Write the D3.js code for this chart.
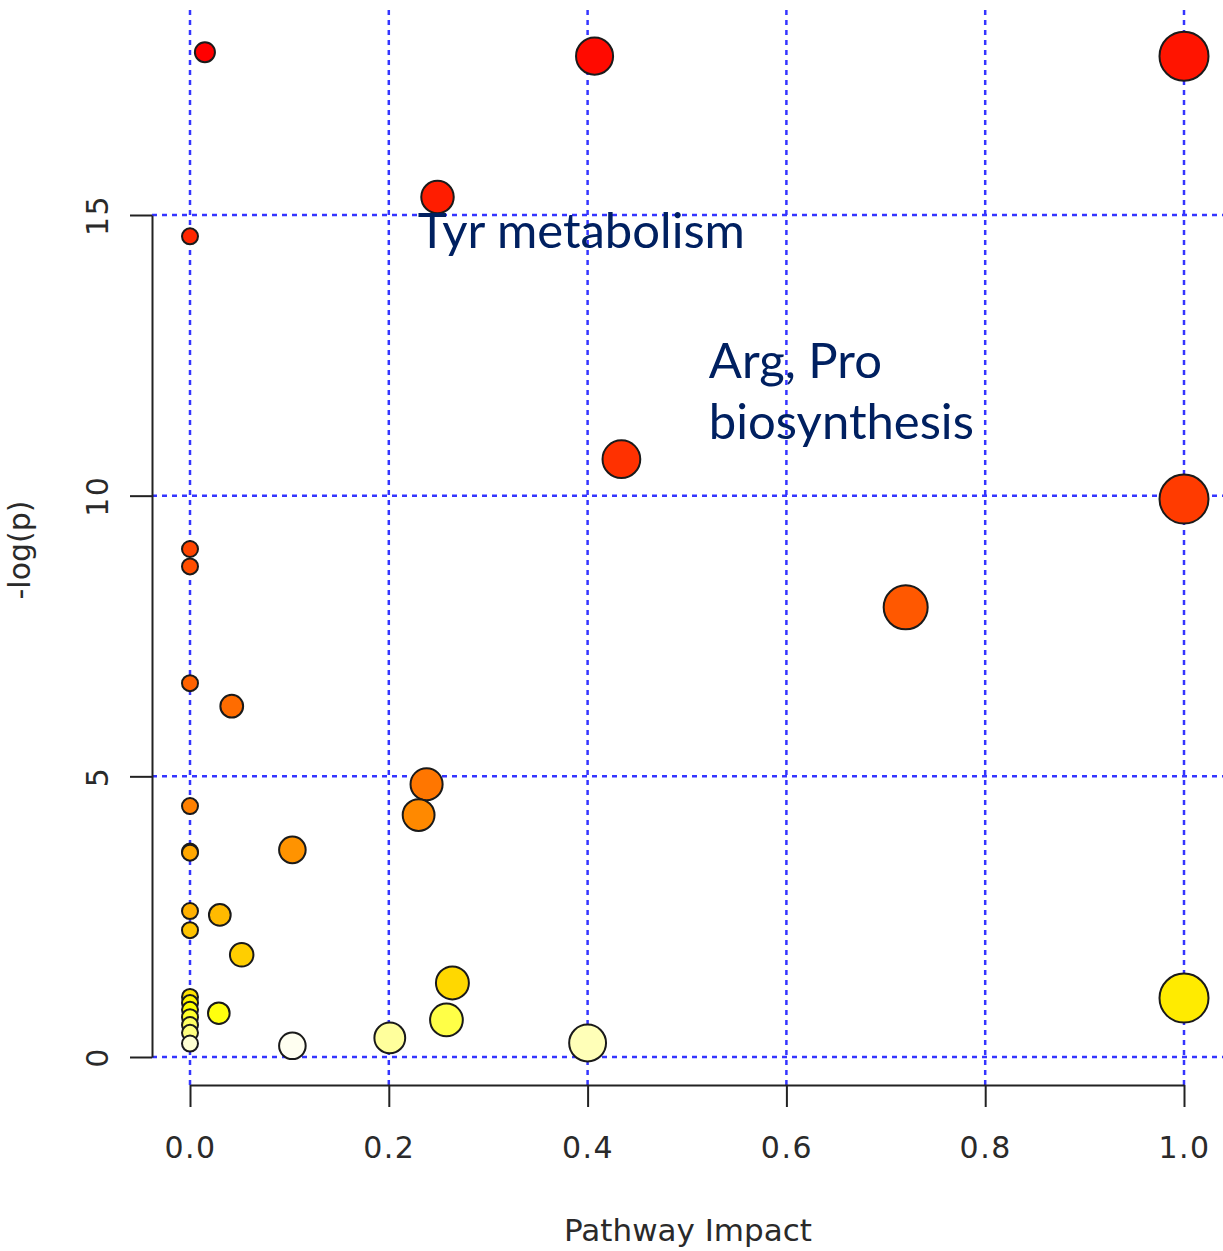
<!DOCTYPE html>
<html>
<head>
<meta charset="utf-8">
<script src="https://cdn.jsdelivr.net/npm/d3@7"></script>
<style>
  html, body { margin: 0; padding: 0; background: #fff; }
  svg { display: block; }
</style>
</head>
<body>
<div id="chart"></div>
<script>
// pathway impact (x) and -log(p) (y), ordered by -log(p) descending
const impact = [0.015, 0.407, 1.0, 0.249, 0, 0.434, 1.0, 0, 0, 0.72,
                0, 0.042, 0.238, 0, 0.230, 0.103, 0, 0, 0, 0.030,
                0, 0.052, 0.264, 0, 1.0, 0, 0, 0.029, 0, 0.258,
                0, 0, 0.201, 0.400, 0, 0.103];
const logp = [17.90, 17.83, 17.83, 15.32, 14.62, 10.65, 9.94, 9.05, 8.74, 8.01,
              6.66, 6.25, 4.86, 4.47, 4.31, 3.69, 3.66, 3.64, 2.60, 2.53,
              2.26, 1.82, 1.32, 1.07, 1.05, 0.96, 0.84, 0.78, 0.71, 0.66,
              0.57, 0.43, 0.34, 0.25, 0.24, 0.20];

const xTicks = [0, 0.2, 0.4, 0.6, 0.8, 1.0];
const yTicks = [0, 5, 10, 15];

const annotations = [
  { lines: ['Tyr metabolism'], x: 0.229, y: 14.41 },
  { lines: ['Arg, Pro', 'biosynthesis'], x: 0.522, y: 12.10 }
];

const width = 1223, height = 1251;

const x = d3.scaleLinear().domain([0, 1]).range([190, 1184]);
const y = d3.scaleLinear().domain([0, 15]).range([1057, 215]);
const r = d3.scaleSqrt().domain([0, 1]).range([8, 24.5]);

// R's heat.colors(n): red -> yellow, then yellow -> white
function heatColors(n) {
  const j = Math.floor(n / 4), i = n - j;
  const out = [];
  for (let k = 0; k < i; k++) {
    const h = i > 1 ? k / (i - 1) : 0; // 0..1 of 60 degrees
    out.push(d3.rgb(255, Math.round(255 * h), 0).formatHex());
  }
  for (let k = 0; k < j; k++) {
    const s = j > 1 ? (1 - 1 / (2 * j)) + k * ((1 / (2 * j)) - (1 - 1 / (2 * j))) / (j - 1) : 0.5;
    out.push(d3.rgb(255, 255, Math.round(255 * (1 - s))).formatHex());
  }
  return out;
}
const fills = heatColors(logp.length);

const svg = d3.select('#chart').append('svg')
  .attr('width', width)
  .attr('height', height);

// grid
const grid = svg.append('g')
  .attr('stroke', '#3535ff')
  .attr('stroke-width', 2.5)
  .attr('stroke-dasharray', '5,5');
grid.selectAll('line.v').data(xTicks).join('line')
  .attr('class', 'v')
  .attr('x1', d => x(d)).attr('x2', d => x(d))
  .attr('y1', 10).attr('y2', 1085);
grid.selectAll('line.h').data(yTicks).join('line')
  .attr('class', 'h')
  .attr('x1', 152).attr('x2', width)
  .attr('y1', d => y(d)).attr('y2', d => y(d));

// axes
const font = '"DejaVu Sans", sans-serif';

const xAxis = svg.append('g')
  .attr('transform', 'translate(0,1085)')
  .call(d3.axisBottom(x).tickValues(xTicks).tickSize(22).tickSizeOuter(0)
    .tickPadding(30).tickFormat(d3.format('.1f')));
const yAxis = svg.append('g')
  .attr('transform', 'translate(152,0)')
  .call(d3.axisLeft(y).tickValues(yTicks).tickSize(22).tickSizeOuter(0));

[xAxis, yAxis].forEach(g => {
  g.select('.domain').attr('stroke', '#222').attr('stroke-width', 2);
  g.selectAll('.tick line').attr('stroke', '#222').attr('stroke-width', 2);
  g.selectAll('.tick text')
    .attr('fill', '#2a2a2a')
    .style('font-family', font)
    .style('font-size', '30px')
    .style('letter-spacing', '1.5px');
});
yAxis.selectAll('.tick text')
  .attr('x', null).attr('dy', null)
  .attr('transform', 'translate(-44,0) rotate(-90)')
  .attr('text-anchor', 'middle');

// axis titles
svg.append('text')
  .attr('x', 688).attr('y', 1241)
  .attr('text-anchor', 'middle')
  .attr('fill', '#2a2a2a')
  .style('font-family', font)
  .style('font-size', '31px')
  .text('Pathway Impact');

svg.append('text')
  .attr('transform', 'translate(30,550) rotate(-90)')
  .attr('text-anchor', 'middle')
  .attr('fill', '#2a2a2a')
  .style('font-family', font)
  .style('font-size', '30px')
  .text('-log(p)');

// points
svg.append('g').selectAll('circle')
  .data(logp.map((v, i) => ({ x: impact[i], y: v, fill: fills[i] })))
  .join('circle')
  .attr('cx', d => x(d.x))
  .attr('cy', d => y(d.y))
  .attr('r', d => r(d.x))
  .attr('fill', d => d.fill)
  .attr('stroke', '#1a1a1a')
  .attr('stroke-width', 2);

// annotations
annotations.forEach(a => {
  const t = svg.append('text')
    .attr('x', x(a.x)).attr('y', y(a.y))
    .attr('fill', '#002060')
    .style('font-family', 'Lato, "Open Sans", sans-serif')
    .style('font-size', '49px');
  a.lines.forEach((l, i) => {
    t.append('tspan').attr('x', x(a.x)).attr('dy', i === 0 ? 0 : 61).text(l);
  });
});
</script>
</body>
</html>
